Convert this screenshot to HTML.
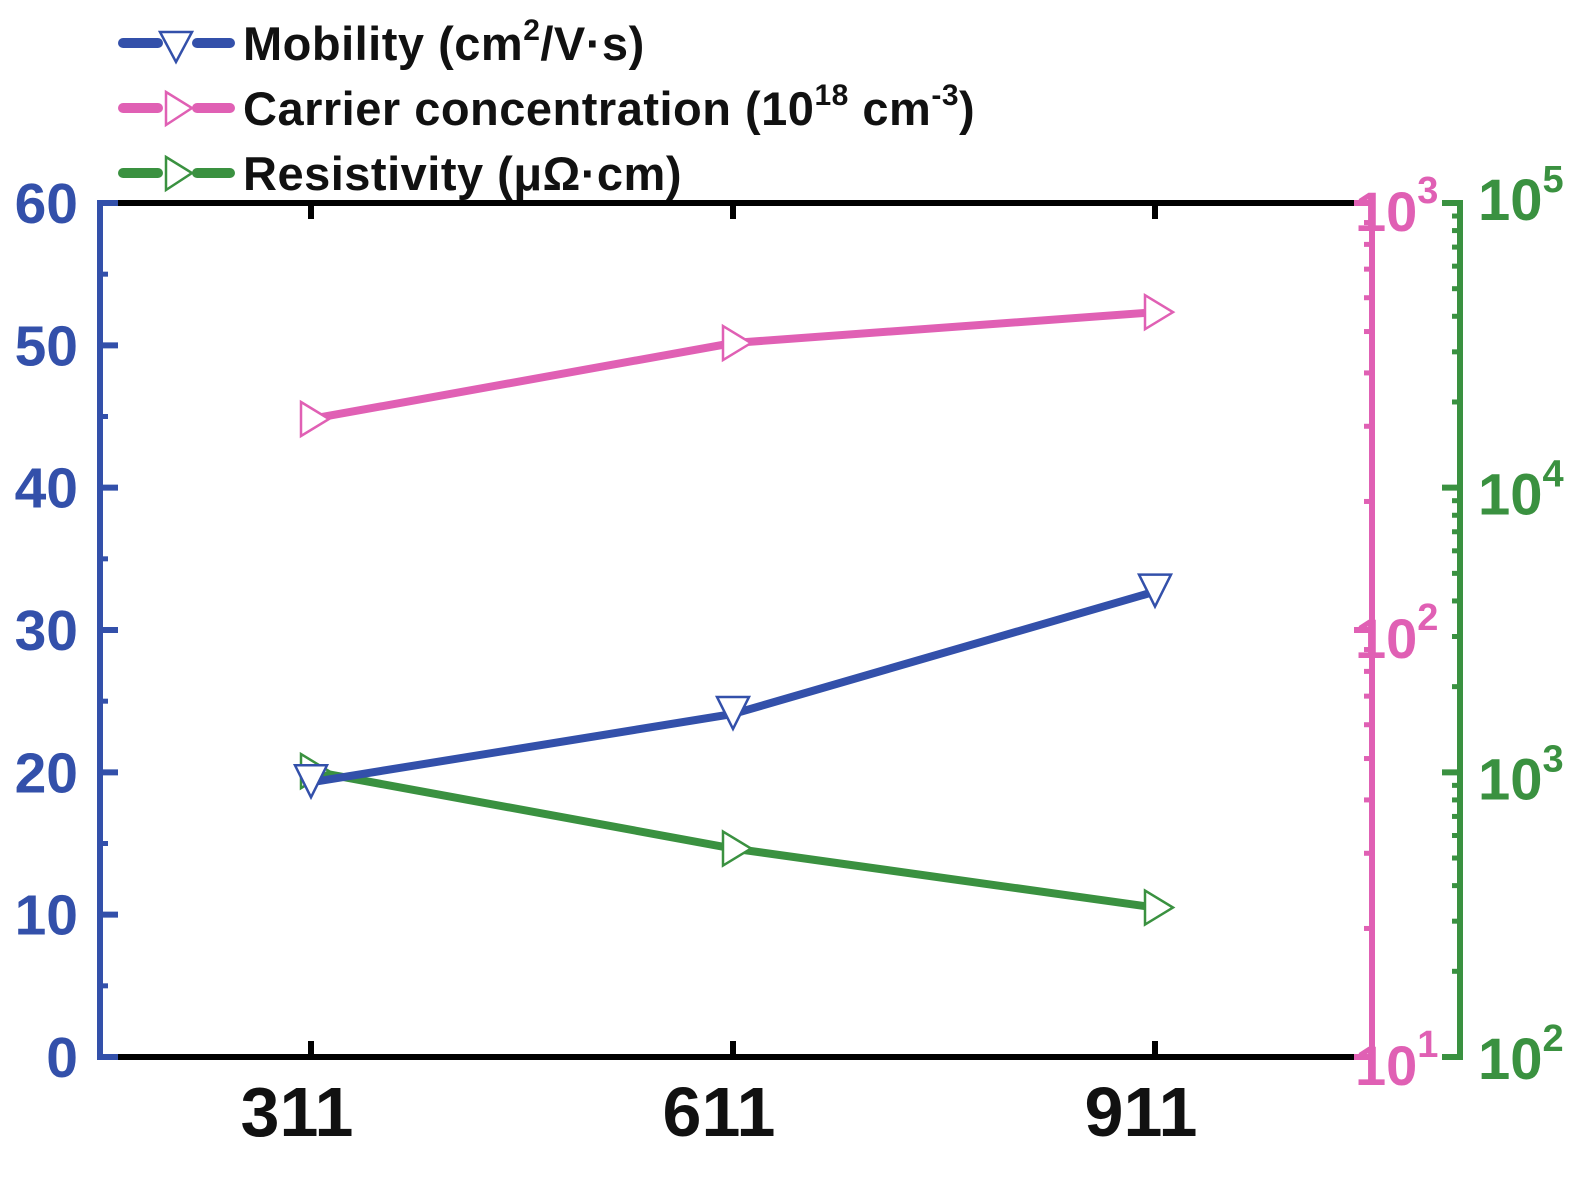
<!DOCTYPE html>
<html><head><meta charset="utf-8"><style>
html,body{margin:0;padding:0;background:#fff;}
svg{display:block;font-family:"Liberation Sans",Arial,sans-serif;font-weight:bold;}
</style></head><body>
<svg id="chart" width="1575" height="1178" viewBox="0 0 1575 1178"></svg>
<script>
const categories = ["311","611","911"];
const mobility = [19.3, 24.1, 32.7];
const carrier = [312, 470, 555];
const resistivity = [1010, 540, 335];
const leftTicks = [0,10,20,30,40,50,60];

const NS="http://www.w3.org/2000/svg";
const svg=document.getElementById('chart');
const BLUE="#3350aa", PINK="#e060b4", GREEN="#3a9140";
const L=100, R=1354, T=203, B=1057;
const xPos=[311,732,1155];
function xs(i){return xPos[0]+(xPos[2]-xPos[0])*i/(categories.length-1);}
function yL(v){return B-(v/60)*(B-T);}
function yP(v){return B-(Math.log10(v)-1)/2*(B-T);}
function yG(v){return B-(Math.log10(v)-2)/3*(B-T);}
function el(tag,a,parent){const e=document.createElementNS(NS,tag);for(const k in a)e.setAttribute(k,a[k]);(parent||svg).appendChild(e);return e;}

let e;
e=el('line',{x1:L,y1:T,x2:1372,y2:T,stroke:'#000','stroke-width':6});

e=el('line',{x1:L,y1:B,x2:1372,y2:B,stroke:'#000','stroke-width':6});

e=el('line',{x1:L,y1:T-3,x2:L,y2:B+3,stroke:BLUE,'stroke-width':6});

el('line',{x1:L,y1:T,x2:118,y2:T,stroke:BLUE,'stroke-width':6});
el('line',{x1:L,y1:B,x2:118,y2:B,stroke:BLUE,'stroke-width':6});
e=el('line',{x1:1372,y1:T-3,x2:1372,y2:B+3,stroke:PINK,'stroke-width':6});

el('line',{x1:1354,y1:T,x2:1372,y2:T,stroke:PINK,'stroke-width':6});
el('line',{x1:1354,y1:B,x2:1372,y2:B,stroke:PINK,'stroke-width':6});
e=el('line',{x1:1460,y1:T-3,x2:1460,y2:B+3,stroke:GREEN,'stroke-width':6});


categories.forEach((c,i)=>{
  el('line',{x1:xs(i),y1:B,x2:xs(i),y2:B-16,stroke:'#000','stroke-width':6});
  el('line',{x1:xs(i),y1:T,x2:xs(i),y2:T+16,stroke:'#000','stroke-width':6});
  const t=el('text',{x:xs(i)-14,y:1136,'text-anchor':'middle','font-size':70,fill:'#111'});
  t.textContent=c;
  
});
leftTicks.forEach(v=>{
  el('line',{x1:L,y1:yL(v),x2:118,y2:yL(v),stroke:BLUE,'stroke-width':6});
  const t=el('text',{x:78,y:yL(v)+20,'text-anchor':'end','font-size':57,fill:BLUE});
  t.textContent=v;
  
});
for(let v=5;v<60;v+=10) el('line',{x1:L,y1:yL(v),x2:108,y2:yL(v),stroke:BLUE,'stroke-width':5});
for(let d=1;d<3;d++) for(let m=2;m<10;m++){const v=m*Math.pow(10,d);el('line',{x1:1364,y1:yP(v),x2:1372,y2:yP(v),stroke:PINK,'stroke-width':5});}
el('line',{x1:1354,y1:yP(100),x2:1372,y2:yP(100),stroke:PINK,'stroke-width':6});
[[1,10],[2,100],[3,1000]].forEach(([p,v])=>{
  const t=el('text',{x:1355,y:yP(v)+28,'font-size':56,fill:PINK});
  t.innerHTML='10<tspan dy="-28" font-size="38">'+p+'</tspan>';
  
});
for(let d=2;d<5;d++) for(let m=2;m<10;m++){const v=m*Math.pow(10,d);el('line',{x1:1452,y1:yG(v),x2:1460,y2:yG(v),stroke:GREEN,'stroke-width':5});}
[100,1000,10000,100000].forEach((v,i)=>{
  el('line',{x1:1442,y1:yG(v),x2:1460,y2:yG(v),stroke:GREEN,'stroke-width':6});
  const t=el('text',{x:1478,y:yG(v)+(i==0?22:i==3?17:27),'font-size':58,fill:GREEN});
  t.innerHTML='10<tspan dy="-28" font-size="38">'+(i+2)+'</tspan>';
  
});

function series(vals,yf,color,name,down){
  const pts=vals.map((v,i)=>[xs(i),yf(v)]);
  const pl=el('polyline',{points:pts.map(p=>p.join(',')).join(' '),fill:'none',stroke:color,'stroke-width':8,'stroke-linecap':'round'});
  
  pts.forEach(([x,y])=>{
    const p=down?`${x-16},${y-17} ${x+16},${y-17} ${x},${y+15}`:`${x-10},${y-17} ${x+18},${y} ${x-10},${y+17}`;
    const m=el('polygon',{points:p,fill:'#fff',stroke:color,'stroke-width':2.5});
    
  });
}
series(carrier,yP,PINK,'carrier');
series(resistivity,yG,GREEN,'resistivity');
series(mobility,yL,BLUE,'mobility',true);

const leg=[[BLUE,'Mobility (cm<tspan dy="-20" font-size="30">2</tspan><tspan dy="20">/V·s)</tspan>',true],
 [PINK,'Carrier concentration (10<tspan dy="-20" font-size="30">18</tspan><tspan dy="20"> cm</tspan><tspan dy="-20" font-size="30">-3</tspan><tspan dy="20">)</tspan>'],
 [GREEN,'Resistivity (μΩ·cm)']];
leg.forEach(([c,txt,down],i)=>{
  const y=43+i*65;
  const g=el('g',{});
  
  el('line',{x1:123,y1:y,x2:158,y2:y,stroke:c,'stroke-width':10,'stroke-linecap':'round'},g);
  el('line',{x1:197,y1:y,x2:230,y2:y,stroke:c,'stroke-width':10,'stroke-linecap':'round'},g);
  const x=176;
  el('polygon',{points:down?`${x-16},${y-11} ${x+16},${y-11} ${x},${y+19}`:`${x-10},${y-16} ${x+16},${y} ${x-10},${y+17}`,fill:'#fff',stroke:c,'stroke-width':2.5},g);
  const t=el('text',{x:243,y:y+17,'font-size':47,fill:'#111','letter-spacing':'0.5'},g);
  t.innerHTML=txt;
});
</script>
</body></html>
